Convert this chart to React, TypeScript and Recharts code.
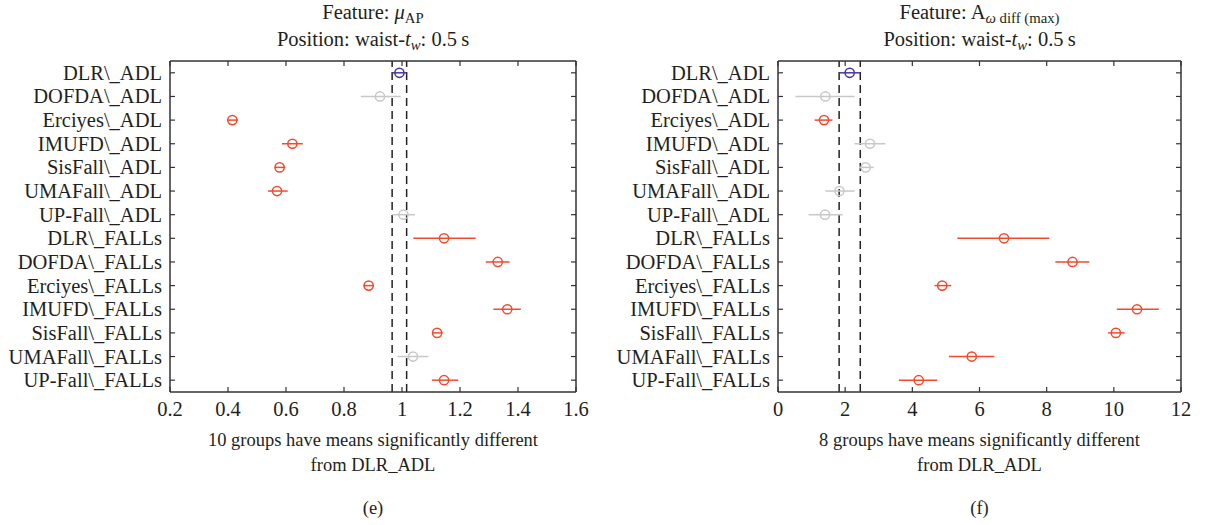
import React from "react";
import {
  ErrorBar,
  ReferenceLine,
  Scatter,
  ScatterChart,
  XAxis,
  YAxis,
} from "recharts";

// group names, top to bottom
const groups = [
  "DLR\\_ADL",
  "DOFDA\\_ADL",
  "Erciyes\\_ADL",
  "IMUFD\\_ADL",
  "SisFall\\_ADL",
  "UMAFall\\_ADL",
  "UP-Fall\\_ADL",
  "DLR\\_FALLs",
  "DOFDA\\_FALLs",
  "Erciyes\\_FALLs",
  "IMUFD\\_FALLs",
  "SisFall\\_FALLs",
  "UMAFall\\_FALLs",
  "UP-Fall\\_FALLs",
];

// (e) feature mu_AP
const muMean = [0.991, 0.924, 0.415, 0.622, 0.578, 0.569, 1.005, 1.145, 1.33, 0.885, 1.363, 1.121, 1.038, 1.145];
const muLow = [0.966, 0.858, 0.398, 0.586, 0.561, 0.538, 0.966, 1.039, 1.289, 0.867, 1.315, 1.106, 0.984, 1.103];
const muHigh = [1.016, 0.996, 0.434, 0.658, 0.598, 0.606, 1.045, 1.254, 1.371, 0.903, 1.41, 1.14, 1.091, 1.194];
const muStatus = ["ref", "same", "diff", "diff", "diff", "diff", "same", "diff", "diff", "diff", "diff", "diff", "same", "diff"];
const muTicks = [0.2, 0.4, 0.6, 0.8, 1, 1.2, 1.4, 1.6];

// (f) feature A_omega diff (max)
const awMean = [2.135, 1.41, 1.37, 2.74, 2.61, 1.83, 1.4, 6.73, 8.77, 4.89, 10.69, 10.06, 5.77, 4.19];
const awLow = [1.82, 0.52, 1.09, 2.28, 2.41, 1.41, 0.91, 5.34, 8.26, 4.66, 10.09, 9.83, 5.09, 3.6];
const awHigh = [2.45, 2.28, 1.62, 3.2, 2.85, 2.28, 1.92, 8.08, 9.27, 5.16, 11.34, 10.32, 6.44, 4.74];
const awStatus = ["ref", "same", "diff", "same", "same", "same", "same", "diff", "diff", "diff", "diff", "diff", "diff", "diff"];
const awTicks = [0, 2, 4, 6, 8, 10, 12];

const rowTicks = groups.map((_, i) => i + 1);

const FONT = "'Liberation Serif', serif";
const INK = "#231f20";
const AXIS = "#333333";
const TICK_MARGIN = 8;
const TICK_LEN = 5;

const colors: Record<string, string> = {
  ref: "#4536a8",
  same: "#c8c8c8",
  diff: "#f24a2c",
};

const buildRows = (mean: number[], low: number[], high: number[], status: string[]) =>
  mean.map((m, i) => ({
    y: i + 1,
    x: m,
    err: [m - low[i], high[i] - m],
    status: status[i],
  }));

const BottomTick = (props: any) => {
  const { x, y, payload } = props;
  const axisY = y - TICK_MARGIN;
  return (
    <g>
      <line x1={x} x2={x} y1={axisY} y2={axisY - TICK_LEN} stroke={AXIS} strokeWidth={1.2} />
      <text x={x} y={axisY + 24} textAnchor="middle" fill={INK} fontSize={20.5} fontFamily={FONT}>
        {payload.value}
      </text>
    </g>
  );
};

const TopTick = (props: any) => {
  const { x, y } = props;
  const axisY = y + TICK_MARGIN;
  return <line x1={x} x2={x} y1={axisY} y2={axisY + TICK_LEN} stroke={AXIS} strokeWidth={1.2} />;
};

const LeftTick = (props: any) => {
  const { x, y, payload } = props;
  const axisX = x + TICK_MARGIN;
  return (
    <g>
      <line x1={axisX} x2={axisX + TICK_LEN} y1={y} y2={y} stroke={AXIS} strokeWidth={1.2} />
      <text x={axisX - 8} y={y + 7} textAnchor="end" fill={INK} fontSize={20.5} fontFamily={FONT}>
        {groups[payload.value - 1]}
      </text>
    </g>
  );
};

const RightTick = (props: any) => {
  const { x, y } = props;
  const axisX = x - TICK_MARGIN;
  return <line x1={axisX} x2={axisX - TICK_LEN} y1={y} y2={y} stroke={AXIS} strokeWidth={1.2} />;
};

const circle = (color: string) => (props: any) =>
  <circle cx={props.cx} cy={props.cy} r={4.6} fill="none" stroke={color} strokeWidth={1.5} />;

const textStyle: React.CSSProperties = {
  position: "absolute",
  fontFamily: FONT,
  color: INK,
  textAlign: "center",
  whiteSpace: "nowrap",
};

const subStyle: React.CSSProperties = {
  fontSize: "0.72em",
  verticalAlign: "-0.3em",
  lineHeight: 0,
};

type PanelProps = {
  left: number;
  leftAxis: number;
  rows: ReturnType<typeof buildRows>;
  domain: [number, number];
  ticks: number[];
  refLow: number;
  refHigh: number;
  title: React.ReactNode;
  note: string;
  letter: string;
};

const Panel = ({ left, leftAxis, rows, domain, ticks, refLow, refHigh, title, note, letter }: PanelProps) => {
  const width = 600;
  const plotLeft = left + leftAxis;
  const plotRight = left + width - 24;
  const center = (plotLeft + plotRight) / 2;
  return (
    <>
      <div style={{ position: "absolute", left, top: 0 }}>
        <ScatterChart
          width={width}
          height={525}
          margin={{ top: 51, right: 14, bottom: 93, left: 0 }}
        >
          <XAxis
            xAxisId="bottom"
            type="number"
            dataKey="x"
            domain={domain}
            ticks={ticks}
            allowDataOverflow
            orientation="bottom"
            height={40}
            tickSize={0}
            tickMargin={TICK_MARGIN}
            tickLine={false}
            axisLine={{ stroke: AXIS, strokeWidth: 1.5 }}
            tick={<BottomTick />}
            interval={0}
          />
          <XAxis
            xAxisId="top"
            type="number"
            dataKey="x"
            domain={domain}
            ticks={ticks}
            allowDataOverflow
            orientation="top"
            height={10}
            tickSize={0}
            tickMargin={TICK_MARGIN}
            tickLine={false}
            axisLine={{ stroke: AXIS, strokeWidth: 1.5 }}
            tick={<TopTick />}
            interval={0}
          />
          <YAxis
            yAxisId="left"
            type="number"
            dataKey="y"
            domain={[0.5, 14.5]}
            ticks={rowTicks}
            reversed
            allowDataOverflow
            width={leftAxis}
            tickSize={0}
            tickMargin={TICK_MARGIN}
            tickLine={false}
            axisLine={{ stroke: AXIS, strokeWidth: 1.5 }}
            tick={<LeftTick />}
            interval={0}
          />
          <YAxis
            yAxisId="right"
            orientation="right"
            type="number"
            dataKey="y"
            domain={[0.5, 14.5]}
            ticks={rowTicks}
            reversed
            allowDataOverflow
            width={10}
            tickSize={0}
            tickMargin={TICK_MARGIN}
            tickLine={false}
            axisLine={{ stroke: AXIS, strokeWidth: 1.5 }}
            tick={<RightTick />}
            interval={0}
          />
          <ReferenceLine xAxisId="bottom" yAxisId="left" x={refLow} stroke="#222222" strokeWidth={1.5} strokeDasharray="8 5" />
          <ReferenceLine xAxisId="bottom" yAxisId="left" x={refHigh} stroke="#222222" strokeWidth={1.5} strokeDasharray="8 5" />
          {["same", "diff", "ref"].map((s) => (
            <Scatter
              key={s}
              xAxisId="bottom"
              yAxisId="left"
              data={rows.filter((r) => r.status === s)}
              shape={circle(colors[s])}
              isAnimationActive={false}
            >
              <ErrorBar dataKey="err" direction="x" width={0} stroke={colors[s]} strokeWidth={1.5} />
            </Scatter>
          ))}
        </ScatterChart>
      </div>
      <div style={{ ...textStyle, left: center - 200, width: 400, top: -1, fontSize: 20.5, lineHeight: "27px" }}>
        {title}
      </div>
      <div style={{ ...textStyle, left: center - 250, width: 500, top: 428, fontSize: 18.5, lineHeight: "25px" }}>
        <div>{note}</div>
        <div>from DLR_ADL</div>
      </div>
      <div style={{ ...textStyle, left: center - 150, width: 300, top: 496, fontSize: 18.5, lineHeight: "25px" }}>
        {letter}
      </div>
    </>
  );
};

const App = () => {
  const muRows = buildRows(muMean, muLow, muHigh, muStatus);
  const awRows = buildRows(awMean, awLow, awHigh, awStatus);
  return (
    <div style={{ position: "absolute", left: 0, top: 0, width: 1205, height: 525, background: "#ffffff" }}>
      <Panel
        left={0}
        leftAxis={170}
        rows={muRows}
        domain={[0.2, 1.6]}
        ticks={muTicks}
        refLow={muLow[0]}
        refHigh={muHigh[0]}
        title={
          <>
            <div>
              Feature: <i>μ</i>
              <span style={subStyle}>AP</span>
            </div>
            <div>
              Position: waist-<i>t</i>
              <span style={subStyle}>
                <i>w</i>
              </span>
              : 0.5{"\u2009"}s
            </div>
          </>
        }
        note="10 groups have means significantly different"
        letter="(e)"
      />
      <Panel
        left={605}
        leftAxis={173}
        rows={awRows}
        domain={[0, 12]}
        ticks={awTicks}
        refLow={awLow[0]}
        refHigh={awHigh[0]}
        title={
          <>
            <div>
              Feature: A
              <span style={subStyle}>
                <i>ω</i> diff (max)
              </span>
            </div>
            <div>
              Position: waist-<i>t</i>
              <span style={subStyle}>
                <i>w</i>
              </span>
              : 0.5{"\u2009"}s
            </div>
          </>
        }
        note="8 groups have means significantly different"
        letter="(f)"
      />
    </div>
  );
};

export default App;
